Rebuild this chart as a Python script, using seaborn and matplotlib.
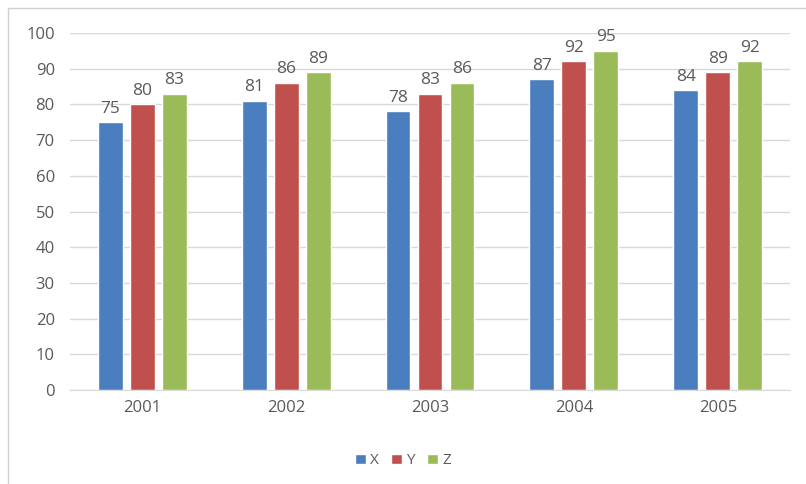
import numpy as np
import pandas as pd
import matplotlib
matplotlib.use("Agg")
import matplotlib.pyplot as plt
import seaborn as sns
from matplotlib.lines import Line2D

years = ["2001", "2002", "2003", "2004", "2005"]
x_vals = [75, 81, 78, 87, 84]
y_vals = [80, 86, 83, 92, 89]
z_vals = [83, 89, 86, 95, 92]
series = ["X", "Y", "Z"]
colors = ["#4a7ebf", "#c0504d", "#9bbb59"]

df = pd.DataFrame({
    "year": years * 3,
    "value": x_vals + y_vals + z_vals,
    "series": [s for s in series for _ in years],
})

sns.set_style("white")
plt.rcParams["font.family"] = ["Open Sans", "DejaVu Sans"]

fig = plt.figure(figsize=(8.06, 4.84), dpi=100)
ax = fig.add_axes([0.087, 0.194, 0.893, 0.738])

sns.barplot(data=df, x="year", y="value", hue="series", palette=colors,
            width=0.667, gap=0.22, ax=ax, legend=True, saturation=1)

ax.set_ylim(0, 100)
ax.set_yticks(range(0, 101, 10))
ax.yaxis.grid(True, color="#d9d9d9", linewidth=1)
ax.set_axisbelow(True)
for s in ["top", "right", "left"]:
    ax.spines[s].set_visible(False)
ax.spines["bottom"].set_color("#d9d9d9")
ax.tick_params(axis="both", length=0, labelsize=12, colors="#595959", pad=7)
ax.tick_params(axis="y", pad=11)
ax.set_xlabel("")
ax.set_ylabel("")

for cont in ax.containers:
    ax.bar_label(cont, padding=4, fontsize=12.5, color="#595959")

handles, labels = ax.get_legend_handles_labels()
ax.legend_.remove()
fig.legend(handles, labels, loc="center", bbox_to_anchor=(0.5, 0.048), ncol=3,
           frameon=False, fontsize=11, handlelength=0.7, handleheight=0.7,
           columnspacing=0.8, handletextpad=0.3, labelcolor="#595959")

# chart frame
fig.add_artist(Line2D([8/806, 8/806], [0, 1 - 8/484], color="#d0d0d0", linewidth=1))
fig.add_artist(Line2D([8/806, 1], [1 - 8/484, 1 - 8/484], color="#d0d0d0", linewidth=1))

fig.savefig("out.png", dpi=100)
